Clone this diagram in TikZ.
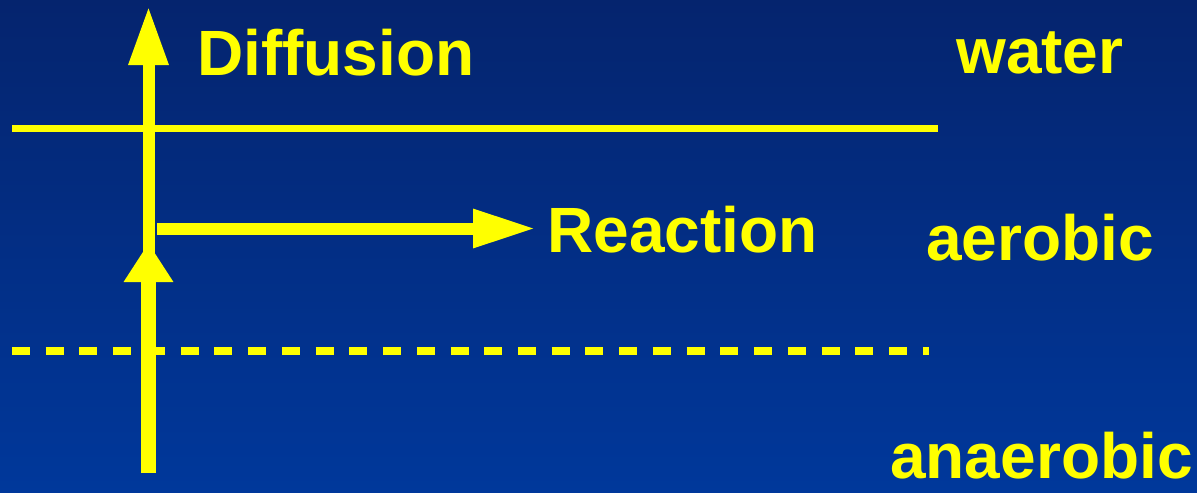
\documentclass[tikz,border=0pt]{standalone}
\usepackage{fontspec}
\setmainfont{Liberation Sans}
\usetikzlibrary{arrows.meta}
\definecolor{bgtop}{RGB}{5,36,110}
\definecolor{bgbot}{RGB}{0,56,155}
\definecolor{ylw}{RGB}{255,255,0}
\begin{document}
\begin{tikzpicture}[x=0.75pt,y=-0.75pt,
  lbl/.style={text=ylw,font=\fontsize{48}{50}\selectfont\bfseries,anchor=base west,inner sep=0pt},
  yline/.style={draw=ylw,line cap=butt}]
\shade[top color=bgtop,bottom color=bgbot] (0,0) rectangle (1197,493);
\useasboundingbox (0,0) rectangle (1197,493);
% coordinates
\coordinate (vbot) at (148.5,473);
\coordinate (vmid) at (148.5,243);
\coordinate (vjoin) at (148.5,262);
\coordinate (vtop) at (148.5,6);
\coordinate (hstart) at (157,228.5);
\coordinate (hend) at (536,228.5);
\coordinate (sl) at (12,128.5);
\coordinate (sr) at (938,128.5);
\coordinate (dl) at (12,351);
\coordinate (dr) at (929,351);
% boundary lines
\draw[yline,line width=5.25pt] (sl) -- (sr);
\draw[yline,line width=6pt,dash pattern=on 13.5pt off 11.8pt] (dl) -- (dr);
% arrows
\draw[yline,line width=11.25pt,-{Triangle[length=29.25pt,width=35.25pt]}] (vbot) -- (vmid);
\draw[yline,line width=9pt,-{Triangle[length=44.25pt,width=27.75pt]}] (vjoin) -- (vtop);
\draw[yline,line width=9pt,-{Triangle[length=47.25pt,width=27pt]}] (hstart) -- (hend);
% labels
\node[lbl] (diff) at (197,75) {Diffusion};
\node[lbl] (water) at (956,73.5) {water};
\node[lbl] (react) at (547,252) {Reaction};
\node[lbl] (aer) at (926,260) {aerobic};
\node[lbl] (anaer) at (890,478.5) {anaerobic};
\end{tikzpicture}
\end{document}
